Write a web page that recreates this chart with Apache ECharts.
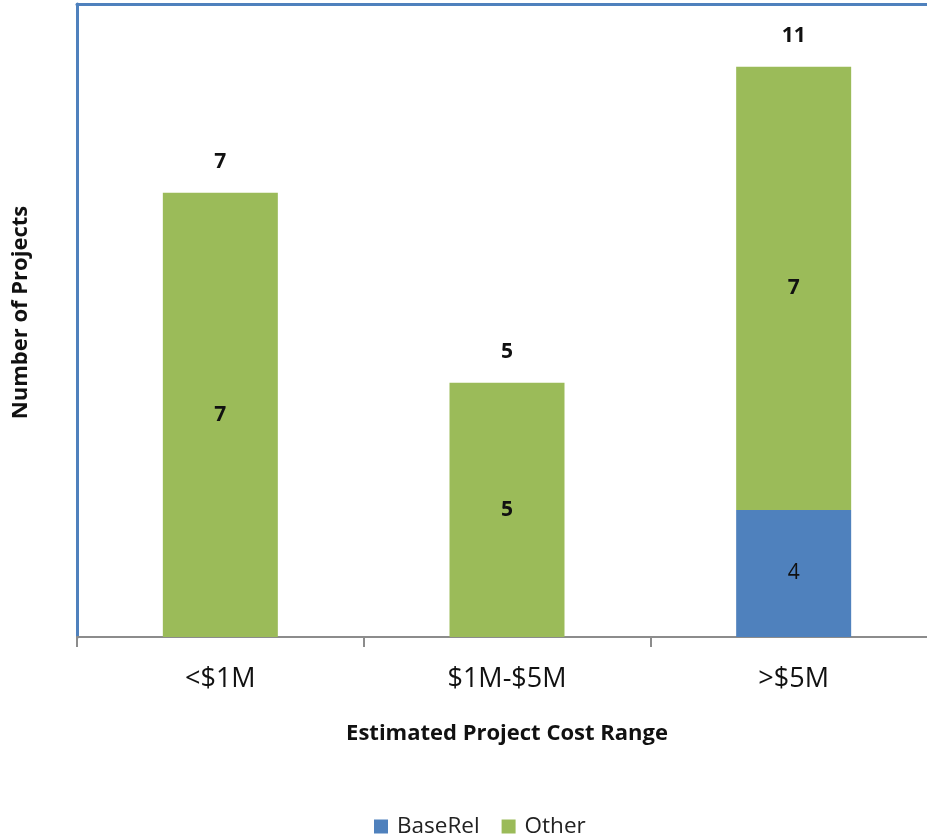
<!DOCTYPE html>
<html>
<head>
<meta charset="utf-8">
<script src="https://cdn.jsdelivr.net/npm/echarts@6/dist/echarts.min.js"></script>
<style>html,body{margin:0;padding:0;background:#fff}#c{width:927px;height:838px}</style>
</head>
<body>
<div id="c"></div>
<script>
const categories = ['<$1M', '$1M-$5M', '>$5M'];
// bar heights as drawn in the reference (plot units)
const baseRel = [0, 0, 2.45];
const other = [8.56, 4.9, 8.54];
// label texts as printed in the reference
const baseRelLabels = ['', '', '4'];
const otherLabels = ['7', '5', '7'];
const totalLabels = ['7', '5', '11'];
const yMax = 12.2;

const FONT = '"Open Sans", Lato, sans-serif';
const chart = echarts.init(document.getElementById('c'), null, {renderer: 'canvas'});
chart.setOption({
  animation: false,
  textStyle: {fontFamily: FONT},
  grid: {left: 77, right: -10, top: 4, bottom: 201, containLabel: false, outerBoundsMode: 'none'},
  legend: {
    top: 810, left: 369,
    itemWidth: 14, itemHeight: 14, itemGap: 22,
    icon: 'rect',
    data: ['BaseRel', 'Other'],
    textStyle: {fontSize: 22.5, color: '#222', fontFamily: FONT, padding: [0, 0, 0, 4]}
  },
  xAxis: [{
    type: 'category', data: categories,
    axisLine: {lineStyle: {color: '#8c8c8c', width: 2}},
    axisTick: {show: true, length: 10, lineStyle: {color: '#8c8c8c', width: 2}},
    axisLabel: {fontSize: 27, color: '#111', margin: 29, fontFamily: FONT},
    name: 'Estimated Project Cost Range', nameLocation: 'middle', nameGap: 86,
    nameTextStyle: {fontSize: 22, fontWeight: 'bold', color: '#111', fontFamily: FONT}
  }, {
    type: 'category', data: categories, position: 'top',
    axisLine: {lineStyle: {color: '#4F81BD', width: 3}},
    axisTick: {show: false}, axisLabel: {show: false}
  }],
  yAxis: {
    type: 'value', min: 0, max: yMax,
    axisLine: {show: true, lineStyle: {color: '#4F81BD', width: 3}},
    axisTick: {show: false}, axisLabel: {show: false}, splitLine: {show: false},
    name: 'Number of Projects', nameLocation: 'middle', nameGap: 45, nameRotate: 90,
    nameTextStyle: {fontSize: 22, fontWeight: 'bold', color: '#111', fontFamily: FONT,
      padding: [0, 0, 0, 16]}
  },
  series: [{
    name: 'BaseRel', type: 'bar', stack: 's', barWidth: 115,
    itemStyle: {color: '#4F81BD'},
    data: baseRel,
    label: {show: true, position: 'inside', fontSize: 21, color: '#111',
      formatter: p => baseRelLabels[p.dataIndex]}
  }, {
    name: 'Other', type: 'bar', stack: 's', barWidth: 115,
    itemStyle: {color: '#9BBB59'},
    data: other,
    label: {show: true, position: 'inside', fontSize: 21, fontWeight: 'bold', color: '#111',
      formatter: p => otherLabels[p.dataIndex]}
  }, {
    name: 'Total', type: 'bar', stack: 's', barWidth: 115,
    data: categories.map(() => 0),
    itemStyle: {color: 'transparent'},
    label: {show: true, position: 'top', distance: 20, fontSize: 21, fontWeight: 'bold', color: '#111',
      formatter: p => totalLabels[p.dataIndex]}
  }]
});
</script>
</body>
</html>
